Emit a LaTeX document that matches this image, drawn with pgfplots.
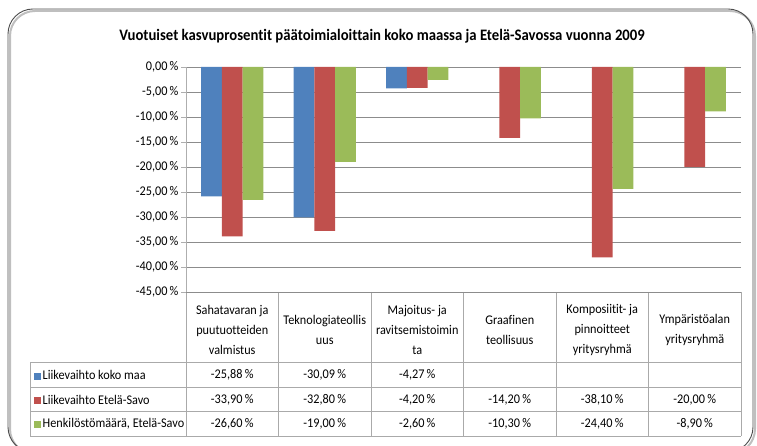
\documentclass[border=0pt]{standalone}
\usepackage{pgfplots}
\pgfplotsset{compat=1.18}
\usepackage{pgfplotstable}
\usepackage{fontspec}
\setmainfont{Carlito}[FakeStretch=0.92, Ligatures=NoCommon]
\definecolor{cblue}{RGB}{79,129,189}
\definecolor{cred}{RGB}{192,80,77}
\definecolor{cgreen}{RGB}{155,187,89}
\definecolor{gridgray}{RGB}{140,140,140}
\definecolor{tabgray}{RGB}{170,170,170}

% growth rates 2009, per sector (nan = no value)
\pgfplotstableread{
x s1 s2 s3
0 -25.88 -33.90 -26.60
1 -30.09 -32.80 -19.00
2 -4.27 -4.20 -2.60
3 nan -14.20 -10.30
4 nan -38.10 -24.40
5 nan -20.00 -8.90
}\data

\newcommand{\pct}{\pgfmathprintnumber[fixed,zerofill,precision=2,use comma,assume math mode=true]{\pgfplotspointmeta}\,\%}
\newcommand{\tabfont}{\fontsize{13.3}{15}\selectfont}

\begin{document}
\begin{tikzpicture}[x=1pt,y=1pt]
\useasboundingbox (0,0) rectangle (757,446);
% frame
\draw[rounded corners=25pt, black!25, line width=2pt] (10,-8) rectangle (755,435);
\draw[rounded corners=25pt, black!70, line width=0.9pt] (8,-6) rectangle (753,437);
\node[font=\fontsize{16}{19}\selectfont\bfseries] at (382,410) {Vuotuiset kasvuprosentit päätoimialoittain koko maassa ja Etelä-Savossa vuonna 2009};

% table grid
\begin{scope}[tabgray, line width=0.8pt]
\foreach \k in {0,...,6} {\draw (186+92.5*\k,154) -- (186+92.5*\k,10);}
\foreach \yy in {83.3,58.5,34.5,10} {\draw (30,\yy) -- (741,\yy);}
\draw (30,83.3) -- (30,10);
\end{scope}
\begin{scope}[font=\tabfont, anchor=west]
\node at (30,71) {\textcolor{cblue}{\rule{7pt}{7pt}}\,Liikevaihto koko maa};
\node at (30,46.5) {\textcolor{cred}{\rule{7pt}{7pt}}\,Liikevaihto Etelä-Savo};
\node at (30,22.2) {\textcolor{cgreen}{\rule{7pt}{7pt}}\,Henkilöstömäärä, Etelä-Savo};
\end{scope}

\begin{axis}[
  scale only axis, width=555pt, height=225pt,
  at={(186pt,154pt)}, anchor=south west,
  xmin=-0.5, xmax=5.5, ymin=-45, ymax=0,
  clip=false,
  axis x line*=bottom, axis y line*=left,
  x axis line style={draw=none},
  y axis line style={gridgray!70, line width=0.8pt},
  ytick={-45,-40,...,0},
  ymajorgrids, grid style={gridgray, line width=0.8pt},
  tick align=outside, major tick length=5pt,
  ytick style={gridgray!70, line width=0.8pt},
  xtick={0,...,5}, xtick style={draw=none},
  xticklabels={{Sahatavaran ja\\puutuotteiden\\valmistus},{Teknologiateollis\\uus},{Majoitus- ja\\ravitsemistoimin\\ta},{Graafinen\\teollisuus},{Komposiitit- ja\\pinnoitteet\\yritysryhmä},{Ympäristöalan\\yritysryhmä}},
  xticklabel style={font=\fontsize{13.3}{20}\selectfont, align=center, anchor=center, yshift=-33pt},
  yticklabel={\pgfmathprintnumber[fixed,zerofill,precision=2,use comma,assume math mode=true]{\tick}\,\%},
  yticklabel style={font=\tabfont, xshift=1pt},
  every node near coord/.append style={anchor=center, font=\tabfont},
]
\addplot[ybar, bar width=0.224, bar shift=-0.224, fill=cblue, draw=none] table[x=x,y=s1]{\data};
\addplot[ybar, bar width=0.224, bar shift=0, fill=cred, draw=none] table[x=x,y=s2]{\data};
\addplot[ybar, bar width=0.224, bar shift=0.224, fill=cgreen, draw=none] table[x=x,y=s3]{\data};
% data table rows
\addplot[draw=none, forget plot, point meta=explicit, nodes near coords={\pct}] table[x=x, y expr={\thisrow{s1}*0-61.6}, meta=s1]{\data};
\addplot[draw=none, forget plot, point meta=explicit, nodes near coords={\pct}] table[x=x, y expr={\thisrow{s2}*0-66.5}, meta=s2]{\data};
\addplot[draw=none, forget plot, point meta=explicit, nodes near coords={\pct}] table[x=x, y expr={\thisrow{s3}*0-71.4}, meta=s3]{\data};
\end{axis}
\end{tikzpicture}
\end{document}
